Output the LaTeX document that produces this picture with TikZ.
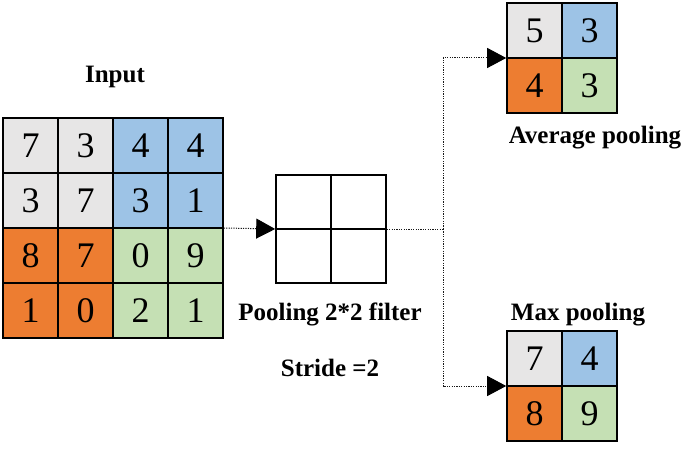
\documentclass[tikz,border=0pt]{standalone}
\usepackage{fontspec}
\setmainfont{Liberation Serif}
\usetikzlibrary{arrows.meta,fit}
\definecolor{cgray}{HTML}{E7E6E6}
\definecolor{cblue}{HTML}{9DC3E6}
\definecolor{corange}{HTML}{ED7D31}
\definecolor{cgreen}{HTML}{C5E0B4}
\tikzset{
  cell/.style={draw=black, line width=1.2pt, minimum width=55pt, minimum height=55pt, inner sep=0pt,
    font=\fontsize{36}{36}\selectfont},
  fcell/.style={draw=black, line width=1.2pt, fill=white, minimum width=55pt, minimum height=54pt, inner sep=0pt},
  lbl/.style={font=\bfseries\fontsize{25}{25}\selectfont, inner sep=0pt},
  dotline/.style={line width=1pt, black!90, dash pattern=on 1.2pt off 1.2pt},
  tip/.style={-{Triangle[length=19pt,width=20pt,black]}}
}
\begin{document}
\begin{tikzpicture}[x=1pt,y=-1pt]
\useasboundingbox (0,0) rectangle (685,457);
% Input grid
\foreach \r/\c/\v/\col in {
  1/1/7/cgray,1/2/3/cgray,1/3/4/cblue,1/4/4/cblue,
  2/1/3/cgray,2/2/7/cgray,2/3/3/cblue,2/4/1/cblue,
  3/1/8/corange,3/2/7/corange,3/3/0/cgreen,3/4/9/cgreen,
  4/1/1/corange,4/2/0/corange,4/3/2/cgreen,4/4/1/cgreen}
  \node[cell, fill=\col] (in-\r-\c) at ({3+27.5+55*(\c-1)},{118+27.5+55*(\r-1)}) {\v};
\node[fit=(in-1-1)(in-4-4), inner sep=0pt] (inp) {};
\node[lbl] (inlbl) at (115,77) {Input};
% Filter
\foreach \r/\c in {1/1,1/2,2/1,2/2}
  \node[fcell] (f-\r-\c) at ({276+27.5+55*(\c-1)},{175+27+54*(\r-1)}) {};
\node[fit=(f-1-1)(f-2-2), inner sep=0pt] (filt) {};
\node[lbl] (plbl) at (330,314) {Pooling 2*2 filter};
\node[lbl] (slbl) at (330,368) {Stride =2};
% Average pooling
\foreach \r/\c/\v/\col in {1/1/5/cgray,1/2/3/cblue,2/1/4/corange,2/2/3/cgreen}
  \node[cell, fill=\col] (a-\r-\c) at ({507+27.5+55*(\c-1)},{3+27.5+55*(\r-1)}) {\v};
\node[fit=(a-1-1)(a-2-2), inner sep=0pt] (avg) {};
\node[lbl] (albl) at (595,138) {Average pooling};
% Max pooling
\foreach \r/\c/\v/\col in {1/1/7/cgray,1/2/4/cblue,2/1/8/corange,2/2/9/cgreen}
  \node[cell, fill=\col] (m-\r-\c) at ({507+27.5+55*(\c-1)},{331+27.5+55*(\r-1)}) {\v};
\node[fit=(m-1-1)(m-2-2), inner sep=0pt] (mx) {};
\node[lbl] (mlbl) at (578,315) {Max pooling};
% Connectors
\coordinate (j) at (443,229);
\draw[dotline, tip] (inp.east) -- (filt.west);
\draw[dotline] (filt.east) -- (j);
\draw[dotline, tip] (j) |- (avg.west);
\draw[dotline, tip] (j) |- (mx.west);
\end{tikzpicture}
\end{document}
